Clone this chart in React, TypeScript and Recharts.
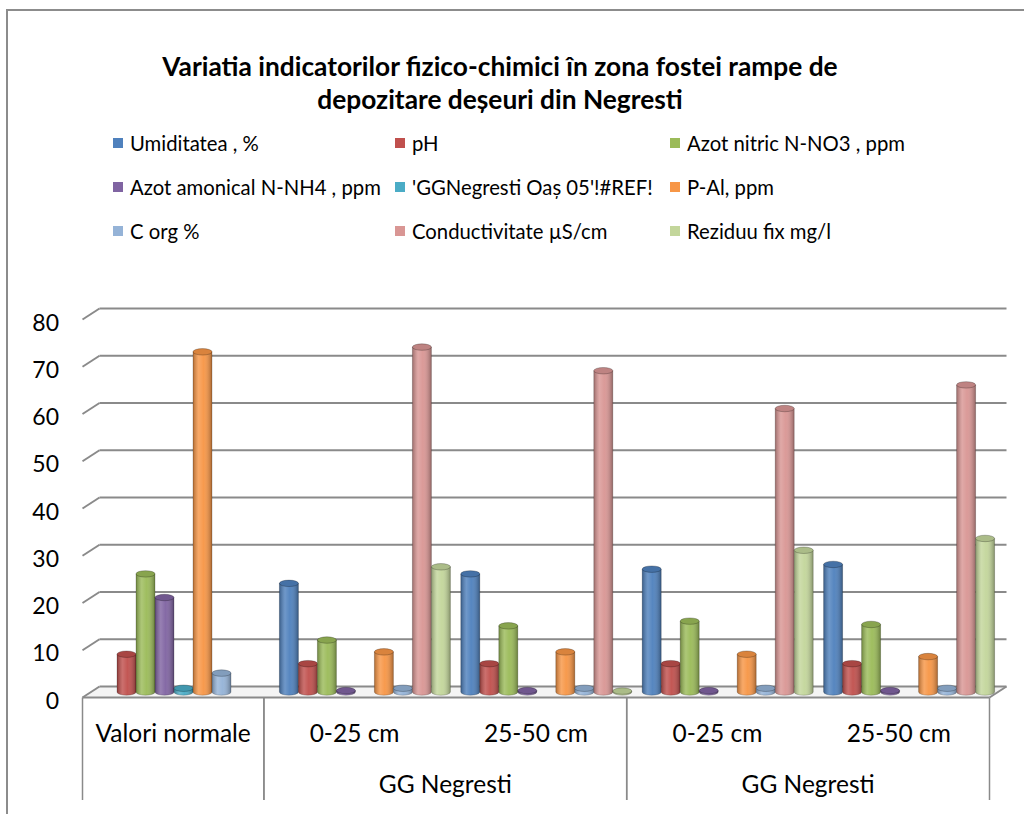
import React from 'react';
import { BarChart, Bar, XAxis, YAxis, CartesianGrid } from 'recharts';

const categories = ['Valori normale', '0-25 cm', '25-50 cm', '0-25 cm', '25-50 cm'];
const groupIds = ['', 'g1', 'g1', 'g2', 'g2'];
const groupLabels = ['', 'GG Negresti', 'GG Negresti', 'GG Negresti', 'GG Negresti'];

const umiditatea = [null, 23, 25, 26, 27];
const ph = [8, 6, 6, 6, 6];
const azotNitric = [25, 11, 14, 15, 14.3];
const azotAmonical = [20, 0.3, 0.3, 0.3, 0.3];
const refErr = [0.8, null, null, null, null];
const pAl = [72, 8.5, 8.5, 8, 7.5];
const cOrg = [4, 0.8, 0.8, 0.8, 0.8];
const conductivitate = [null, 73, 68, 60, 65];
const reziduu = [null, 26.5, 0.2, 30, 32.5];

const yTicks = [0, 10, 20, 30, 40, 50, 60, 70, 80];

const series = [
    { key: 'umiditatea', name: 'Umiditatea , %', color: '#4F81BD', values: umiditatea },
    { key: 'ph', name: 'pH', color: '#C0504D', values: ph },
    { key: 'azotNitric', name: 'Azot nitric N-NO3 , ppm', color: '#9BBB59', values: azotNitric },
    { key: 'azotAmonical', name: 'Azot amonical N-NH4 , ppm', color: '#8064A2', values: azotAmonical },
    { key: 'refErr', name: "'GGNegresti Oaș 05'!#REF!", color: '#4BACC6', values: refErr },
    { key: 'pAl', name: 'P-Al, ppm', color: '#F79646', values: pAl },
    { key: 'cOrg', name: 'C org %', color: '#95B3D7', values: cOrg },
    { key: 'conductivitate', name: 'Conductivitate µS/cm', color: '#D99694', values: conductivitate },
    { key: 'reziduu', name: 'Reziduu fix mg/l', color: '#C3D69B', values: reziduu },
];

const data = categories.map((c, i) => {
    const row: any = { id: 'c' + i, label: c, group: groupIds[i], groupLabel: groupLabels[i] };
    series.forEach((s) => {
        row[s.key] = s.values[i];
    });
    return row;
});

const FONT = 'Lato, "Open Sans", sans-serif';
const W = 1024;
const H = 814;
const MARGIN = { top: 314, right: 26, left: 31, bottom: 22 };
const Y_AXIS_W = 60;
const X_AXIS_H = 100;
const PLOT_LEFT = MARGIN.left + Y_AXIS_W;
const PLOT_RIGHT = W - MARGIN.right;
const PLOT_BOTTOM = H - MARGIN.bottom - X_AXIS_H;
const BAND = (PLOT_RIGHT - PLOT_LEFT) / categories.length;
// half of the 3D depth offset
const DX = 8.5;
const DY = 5.5;
const GRID = '#8a8a8a';

const GridLine = (props: any) => {
    const { x1, x2, y1, index } = props;
    return (
        <g key={'g' + index}>
            {y1 >= PLOT_BOTTOM - 0.5 ? (
                <g>
                    <polygon
                        points={`${x1 - DX},${y1 + DY} ${x2 - DX},${y1 + DY} ${x2 + DX},${y1 - DY} ${x1 + DX},${y1 - DY}`}
                        fill="#f4f4f4"
                        stroke="none"
                    />
                    <line x1={x1 - DX} y1={y1 + DY} x2={x2 - DX} y2={y1 + DY} stroke={GRID} strokeWidth={2} />
                    <line x1={x2 - DX} y1={y1 + DY} x2={x2 + DX} y2={y1 - DY} stroke={GRID} strokeWidth={2} />
                </g>
            ) : null}
            <line x1={x1 + DX} y1={y1 - DY} x2={x2 + DX} y2={y1 - DY} stroke={GRID} strokeWidth={2} />
            <line x1={x1 - DX} y1={y1 + DY} x2={x1 + DX} y2={y1 - DY} stroke={GRID} strokeWidth={2} />
        </g>
    );
};

const Cylinder = (props: any) => {
    const { x, y, width, height, fill, value } = props;
    if (value == null || width == null) return null;
    const rx = width / 2;
    const ry = Math.max(2.5, width * 0.17);
    const cx = x + rx;
    const bottom = y + height;
    const body = `M${x},${y} L${x},${bottom} A${rx},${ry} 0 0 0 ${x + width},${bottom} L${x + width},${y} Z`;
    return (
        <g>
            <path d={body} fill={fill} stroke="rgba(0,0,0,0.25)" strokeWidth={0.8} />
            <path d={body} fill="url(#cylShade)" stroke="none" />
            <ellipse cx={cx} cy={y} rx={rx} ry={ry} fill={fill} />
            <ellipse cx={cx} cy={y} rx={rx} ry={ry} fill="rgba(0,0,0,0.12)" stroke="rgba(0,0,0,0.3)" strokeWidth={0.8} />
        </g>
    );
};

const YTick = (props: any) => {
    const { x, y, payload } = props;
    return (
        <text x={x - 24} y={y + DY + 2} textAnchor="end" dominantBaseline="central" fontFamily={FONT} fontSize={23} fill="#000">
            {payload.value}
        </text>
    );
};

const XTick = (props: any) => {
    const { x, payload } = props;
    const i = payload.index;
    const row = data[i];
    const left = x - BAND / 2 - DX;
    const right = x + BAND / 2 - DX;
    const top = PLOT_BOTTOM + DY;
    const bottomLine = 800;
    const isGroupStart = i === 0 || data[i - 1].group !== row.group;
    const isGroupEnd = i === data.length - 1 || data[i + 1].group !== row.group;
    let span = 1;
    while (i + span < data.length && data[i + span].group === row.group) span++;
    const hasGroupLabel = row.groupLabel !== '' && isGroupStart;
    return (
        <g>
            <text x={x - DX} y={732} textAnchor="middle" dominantBaseline="central" fontFamily={FONT} fontSize={24.5} fill="#000">
                {row.label}
            </text>
            {isGroupStart ? <line x1={left} y1={top} x2={left} y2={bottomLine} stroke={GRID} strokeWidth={1.5} /> : null}
            {isGroupEnd ? <line x1={right} y1={top} x2={right} y2={bottomLine} stroke={GRID} strokeWidth={1.5} /> : null}
            {hasGroupLabel ? (
                <text
                    x={left + (span * BAND) / 2}
                    y={783}
                    textAnchor="middle"
                    dominantBaseline="central"
                    fontFamily={FONT}
                    fontSize={24.5}
                    fill="#000"
                >
                    {row.groupLabel}
                </text>
            ) : null}
        </g>
    );
};

const legendCols = [113, 395, 670];
const legendRows = [143, 187, 231];

export default function App() {
    return (
        <div style={{ position: 'absolute', left: 0, top: 0, width: W, height: H, overflow: 'hidden', background: '#fff' }}>
            <div
                style={{
                    position: 'absolute',
                    left: 6,
                    top: 9,
                    width: 1100,
                    height: 900,
                    border: '2px solid #8c8c8c',
                }}
            />
            <div
                style={{
                    position: 'absolute',
                    left: 0,
                    width: 1000,
                    top: 50,
                    textAlign: 'center',
                    fontFamily: FONT,
                    fontWeight: 'bold',
                    fontSize: 26.3,
                    lineHeight: '33px',
                    color: '#000',
                }}
            >
                Variatia indicatorilor fizico-chimici în zona fostei rampe de
                <br />
                depozitare deșeuri din Negresti
            </div>
            {series.map((s, i) => (
                <div
                    key={s.key}
                    style={{
                        position: 'absolute',
                        left: legendCols[i % 3],
                        top: legendRows[Math.floor(i / 3)] - 12,
                        height: 24,
                        display: 'flex',
                        alignItems: 'center',
                        fontFamily: FONT,
                        fontSize: 20.3,
                        color: '#000',
                        whiteSpace: 'nowrap',
                    }}
                >
                    <span style={{ width: 10, height: 10, background: s.color, display: 'inline-block', marginRight: 7 }} />
                    {s.name}
                </div>
            ))}
            <div style={{ position: 'absolute', left: 0, top: 0 }}>
                <BarChart width={W} height={H} data={data} margin={MARGIN} barCategoryGap={7} barGap={0}>
                    <defs>
                        <linearGradient id="cylShade" x1="0" y1="0" x2="1" y2="0">
                            <stop offset="0%" stopColor="#000" stopOpacity={0.28} />
                            <stop offset="30%" stopColor="#fff" stopOpacity={0.18} />
                            <stop offset="55%" stopColor="#fff" stopOpacity={0.04} />
                            <stop offset="100%" stopColor="#000" stopOpacity={0.32} />
                        </linearGradient>
                    </defs>
                    <CartesianGrid vertical={false} horizontal={GridLine} />
                    <XAxis
                        dataKey="id"
                        height={X_AXIS_H}
                        axisLine={false}
                        tickLine={false}
                        interval={0}
                        tick={<XTick />}
                    />
                    <YAxis
                        domain={[0, 80]}
                        ticks={yTicks}
                        width={Y_AXIS_W}
                        axisLine={false}
                        tickLine={false}
                        tick={<YTick />}
                    />
                    {series.map((s) => (
                        <Bar
                            key={s.key}
                            dataKey={s.key}
                            name={s.name}
                            fill={s.color}
                            isAnimationActive={false}
                            shape={<Cylinder />}
                        />
                    ))}
                </BarChart>
            </div>
        </div>
    );
}
